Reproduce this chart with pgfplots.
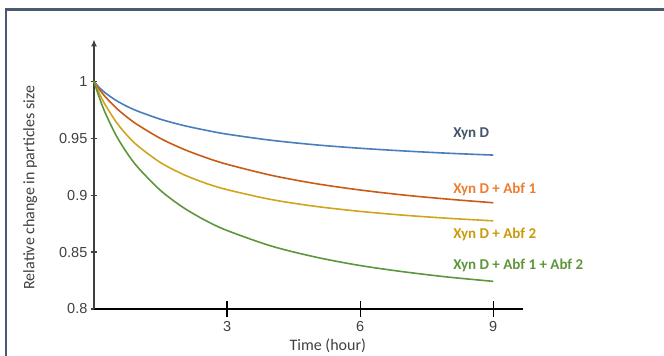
\documentclass[border=0pt]{standalone}
\usepackage{fontspec}
\setmainfont{Liberation Sans}
\newfontfamily\calibri{Carlito}
\usepackage{pgfplots}
\pgfplotsset{compat=1.18}
\usetikzlibrary{arrows.meta}
\definecolor{framec}{HTML}{4A5A70}
\definecolor{lblue}{HTML}{4A7EBB}
\definecolor{lorange}{HTML}{C95B17}
\definecolor{lgold}{HTML}{D2A41C}
\definecolor{lgreen}{HTML}{5E963C}
\definecolor{tblue}{HTML}{44546A}
\definecolor{torange}{HTML}{ED7D31}
\definecolor{tgold}{HTML}{C99A0E}
\definecolor{tgreen}{HTML}{5E963C}
\definecolor{txt}{HTML}{404040}
\begin{document}
\begin{tikzpicture}
\useasboundingbox (0bp,0bp) rectangle (664bp,356bp);
\draw[framec, line width=2.5bp] (6bp,0bp) -- (6bp,346.5bp) -- (664bp,346.5bp);
\begin{axis}[
  at={(94bp,47bp)}, anchor=south west,
  scale only axis, width=429bp, height=269.6bp,
  xmin=0, xmax=9.67, ymin=0.8, ymax=1.037,
  axis lines=left,
  x axis line style={-, black, line width=1.5bp},
  y axis line style={-{Latex[length=7bp,width=6bp]}, black!75, line width=1.5bp},
  tick align=center,
  xtick={3,6,9}, ytick={0.8,0.85,0.9,0.95,1},
  yticklabels={0.8,0.85,0.9,0.95,1},
  xtick style={black, line width=1.3bp, /pgfplots/major tick length=16bp},
  ytick style={black!75, line width=1.3bp, /pgfplots/major tick length=7bp},
  /pgf/number format/assume math mode=true,
  ticklabel style={font=\fontsize{14.5bp}{16bp}\selectfont, text=txt},
  xticklabel style={yshift=-7bp},
  yticklabel style={xshift=-1bp},
  xlabel={Time (hour)},
  ylabel={Relative change in particles size},
  label style={font=\calibri\fontsize{16bp}{18bp}\selectfont, text=txt},
  xlabel style={at={(axis description cs:0.545,0)}, anchor=center, yshift=-37bp},
  ylabel style={at={(axis description cs:-0.149,0.45)}, anchor=center},
  clip=false,
]
\addplot[lblue, line width=1.6bp, smooth] coordinates {
(0,1) (0.1,0.9955) (0.25,0.9901) (0.5,0.9833) (0.75,0.978) (1,0.9737) (1.5,0.9668) (2,0.9615) (2.5,0.9573) (3,0.9537) (4,0.9483) (5,0.9443) (6,0.9413) (7,0.9389) (8,0.9369) (9,0.9353)};
\addplot[lorange, line width=1.6bp, smooth] coordinates {
(0,1) (0.1,0.9942) (0.25,0.9868) (0.5,0.9767) (0.75,0.9685) (1,0.9615) (1.5,0.9499) (2,0.9408) (2.5,0.9334) (3,0.9272) (4,0.9175) (5,0.9102) (6,0.9046) (7,0.9001) (8,0.8965) (9,0.8934)};
\addplot[lgold, line width=1.6bp, smooth] coordinates {
(0,1) (0.1,0.9911) (0.25,0.9797) (0.5,0.9644) (0.75,0.9525) (1,0.943) (1.5,0.9287) (2,0.9185) (2.5,0.9108) (3,0.9049) (4,0.8962) (5,0.8902) (6,0.8858) (7,0.8824) (8,0.8797) (9,0.8775)};
\addplot[lgreen, line width=1.6bp, smooth] coordinates {
(0,1) (0.1,0.988) (0.25,0.9727) (0.5,0.9525) (0.75,0.9368) (1,0.924) (1.5,0.9042) (2,0.8895) (2.5,0.8781) (3,0.869) (4,0.8553) (5,0.8456) (6,0.8382) (7,0.8326) (8,0.828) (9,0.8243)};
\node[anchor=west, font=\calibri\bfseries\fontsize{15bp}{17bp}\selectfont, text=tblue] at (axis cs:8.02,0.9538) {Xyn D};
\node[anchor=west, font=\calibri\bfseries\fontsize{15bp}{17bp}\selectfont, text=torange] at (axis cs:8.02,0.9055) {Xyn D + Abf 1};
\node[anchor=west, font=\calibri\bfseries\fontsize{15bp}{17bp}\selectfont, text=tgold] at (axis cs:8.02,0.8659) {Xyn D + Abf 2};
\node[anchor=west, font=\calibri\bfseries\fontsize{15bp}{17bp}\selectfont, text=tgreen] at (axis cs:8.02,0.8387) {Xyn D + Abf 1 + Abf 2};
\end{axis}
\end{tikzpicture}
\end{document}
